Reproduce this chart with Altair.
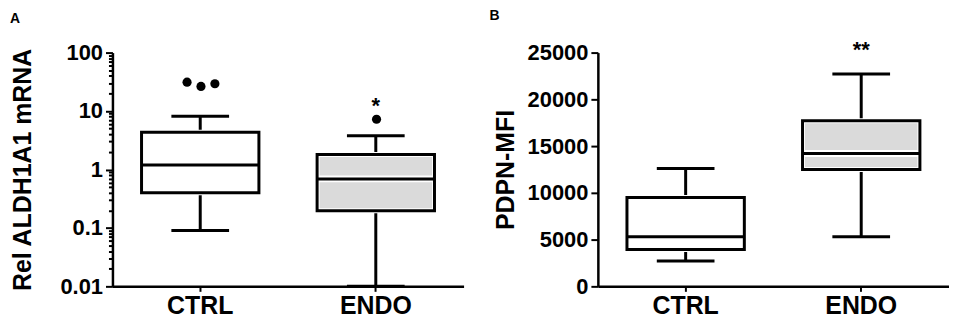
import altair as alt
import pandas as pd

FONT = "Liberation Sans"

groups = ["CTRL", "ENDO"]

# Panel A: Rel ALDH1A1 mRNA (log scale)
a_low = [0.09, 0.01]
a_q1 = [0.40, 0.197]
a_med = [1.19, 0.69]
a_q3 = [4.35, 1.81]
a_high = [8.15, 3.77]
a_out_group = ["CTRL", "CTRL", "CTRL", "ENDO"]
a_out_jitter = [-1, 0, 1, 0]
a_out_val = [31.2, 26.4, 29.3, 7.24]
a_sig = ["", "*"]
a_sig_y = [None, 9.2]

# Panel B: PDPN-MFI
b_low = [2700, 5300]
b_q1 = [3950, 12500]
b_med = [5300, 14200]
b_q3 = [9500, 17700]
b_high = [12600, 22700]
b_sig = ["", "**"]
b_sig_y = [None, 24500]

a_major = [0.01, 0.1, 1, 10, 100]
a_ticks = [m * 10 ** e for e in range(-2, 2) for m in range(1, 10)] + [100]
b_ticks = [0, 5000, 10000, 15000, 20000, 25000]

fill_range = ["white", "#dadada"]


def panel(low, q1, med, q3, high, sig, sig_y, yscale, yaxis, ytitle, letter, dx,
          outliers=None):
    df = pd.DataFrame({"group": groups, "low": low, "q1": q1, "med": med,
                       "q3": q3, "high": high, "sig": sig, "sig_y": sig_y})
    base = alt.Chart(df)
    x = alt.X("group:N", sort=groups,
              scale=alt.Scale(paddingInner=0, paddingOuter=0),
              axis=alt.Axis(title=None, labelAngle=0, labelFontSize=25,
                            labelFont=FONT, labelFontWeight="bold",
                            labelColor="black", tickSize=5, tickWidth=2,
                            tickColor="black", domainWidth=2.5,
                            domainColor="black", labelPadding=2))
    y = lambda f: alt.Y(f"{f}:Q", scale=yscale, axis=yaxis, title=ytitle)
    fill = alt.Fill("group:N", scale=alt.Scale(domain=groups, range=fill_range),
                    legend=None)

    whisk = base.mark_rule(strokeWidth=3, color="black").encode(
        x=x, y=y("low"), y2="high:Q")
    cap_hi = base.mark_tick(orient="horizontal", size=58, thickness=3,
                            color="black", opacity=1).encode(x=x, y=y("high"))
    cap_lo = base.mark_tick(orient="horizontal", size=58, thickness=3,
                            color="black", opacity=1).encode(x=x, y=y("low"))
    box_fill = base.mark_bar(size=118, stroke="white", strokeWidth=5).encode(
        x=x, y=y("q1"), y2="q3:Q", fill=fill)
    med_white = base.mark_tick(orient="horizontal", size=118, thickness=7,
                               color="white", opacity=1).encode(x=x, y=y("med"))
    box_line = base.mark_bar(size=118, fillOpacity=0, stroke="black",
                             strokeWidth=3).encode(x=x, y=y("q1"), y2="q3:Q")
    med_black = base.mark_tick(orient="horizontal", size=118, thickness=3,
                               color="black", opacity=1).encode(x=x, y=y("med"))
    sig_t = base.mark_text(fontSize=22, fontWeight="bold", font=FONT,
                           baseline="alphabetic", color="black").encode(
        x=x, y=y("sig_y"), text="sig:N")
    layers = [whisk, cap_hi, cap_lo, box_fill, med_white, box_line, med_black]
    if outliers is not None:
        odf = pd.DataFrame(outliers)
        out = alt.Chart(odf).mark_circle(size=85, color="black", opacity=1).encode(
            x=x,
            xOffset=alt.XOffset("jitter:Q", scale=alt.Scale(domain=[-1, 1],
                                                            range=[75, 103])),
            y=y("value"))
        layers.append(out)
    layers.append(sig_t)
    return alt.layer(*layers).properties(
        width=353, height=235,
        title=alt.TitleParams(letter, anchor="start", frame="group", fontSize=14,
                              fontWeight="bold", font=FONT, color="black",
                              offset=16, dx=dx))


major_test = "indexof([0.01, 0.1, 1, 10, 100], datum.value) >= 0"

a_axis = alt.Axis(values=a_ticks,
                  labelExpr=f"{major_test} ? format(datum.value, '~g') : ''",
                  tickSize={"condition": {"test": major_test, "value": 7},
                            "value": 4},
                  tickWidth=2, tickColor="black", domainWidth=2.5,
                  domainColor="black", labelFontSize=22, labelFont=FONT,
                  labelFontWeight="bold", labelColor="black", labelPadding=3,
                  labelOverlap=False, grid=False, titleFontSize=25,
                  titleFont=FONT, titleFontWeight="bold", titleColor="black",
                  titlePadding=25)
a_scale = alt.Scale(type="log", domain=[0.01, 100], nice=False)

b_axis = alt.Axis(values=b_ticks, format="d", tickSize=7, tickWidth=2,
                  tickColor="black", domainWidth=2.5, domainColor="black",
                  labelFontSize=22, labelFont=FONT, labelFontWeight="bold",
                  labelColor="black", labelPadding=3, grid=False,
                  titleFontSize=25, titleFont=FONT, titleFontWeight="bold",
                  titleColor="black", titlePadding=9)
b_scale = alt.Scale(domain=[0, 25000], nice=False)

chart_a = panel(a_low, a_q1, a_med, a_q3, a_high, a_sig, a_sig_y, a_scale,
                a_axis, "Rel ALDH1A1 mRNA", "A", -103,
                outliers={"group": a_out_group, "jitter": a_out_jitter,
                          "value": a_out_val})
chart_b = panel(b_low, b_q1, b_med, b_q3, b_high, b_sig, b_sig_y, b_scale,
                b_axis, "PDPN-MFI", "B", -109)

chart = alt.hconcat(chart_a, chart_b, spacing=135, bounds="flush").properties(
    padding={"left": 2, "top": 0, "right": 0, "bottom": 0}
).configure_view(stroke=None).configure_scale(
    bandPaddingInner=0, bandPaddingOuter=0
).resolve_scale(fill="independent")

chart.save("out.html", embed_options={"renderer": "svg", "actions": False})
